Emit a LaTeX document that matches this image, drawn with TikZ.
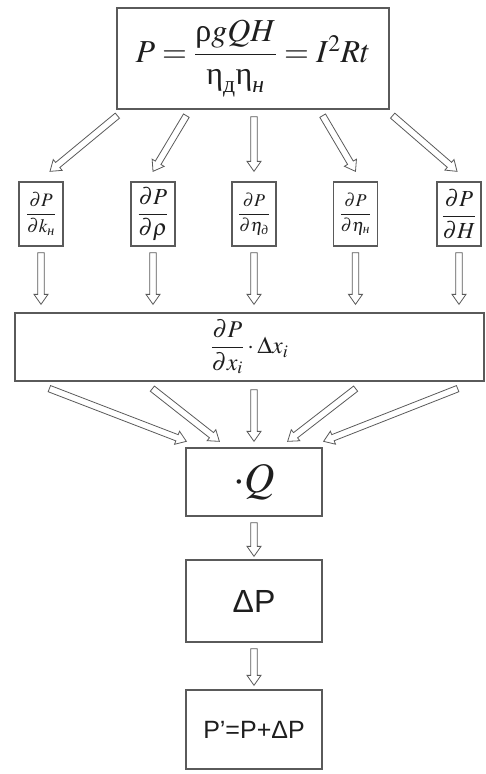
\documentclass[tikz,border=0pt]{standalone}
\usepackage{mathptmx}
\usepackage{amsmath}
\usepackage{fontspec}
\setmainfont{Liberation Serif}
\newfontfamily\arialfont{Liberation Sans}
\usetikzlibrary{calc}

\definecolor{frame}{HTML}{5A5A5A}
\definecolor{ink}{HTML}{1E1E1E}

\tikzset{
  box/.style={draw=frame, line width=1.3pt, fill=white, inner sep=0pt, text=ink},
  smallbox/.style={box, minimum width=44pt, minimum height=64pt},
  midbox/.style={box, minimum width=136pt},
  arrowline/.style={draw=frame, line width=0.8pt, fill=white, line join=miter}
}

% hollow block arrow from #1 to #2
\newcommand{\hollowarrow}[2]{%
  \path #1 coordinate (ha-s) #2 coordinate (ha-e);
  \path ($(ha-e)!10pt!(ha-s)$) coordinate (ha-h);
  \draw[arrowline]
    ($(ha-s)!3.3pt!90:(ha-e)$) -- ($(ha-h)!3.3pt!90:(ha-e)$) --
    ($(ha-h)!7pt!90:(ha-e)$) -- (ha-e) --
    ($(ha-h)!7pt!-90:(ha-e)$) -- ($(ha-h)!3.3pt!-90:(ha-e)$) --
    ($(ha-s)!3.3pt!-90:(ha-e)$) -- cycle;
}

\begin{document}
\begin{tikzpicture}[x=1pt, y=-1pt]
\useasboundingbox (0,0) rectangle (485,774);

% power formula
\node[box, minimum width=272pt, minimum height=101pt] (power) at (253,58.5)
  {\fontsize{32}{38}\selectfont
   $P=\dfrac{\text{ρ}gQH}{\text{η}_{\text{д}}\text{η}_{\textit{н}}}=I^{2}Rt$};

% partial derivatives
\node[smallbox] (dk) at (41,214)
  {\fontsize{19}{22}\selectfont $\dfrac{\partial P}{\partial k_{\textit{н}}}$};
\node[smallbox] (drho) at (153,214)
  {\fontsize{23}{26}\selectfont $\dfrac{\partial P}{\partial \rho}$};
\node[smallbox] (detad) at (254,214)
  {\fontsize{18}{21}\selectfont $\dfrac{\partial P}{\partial \eta_{\textit{д}}}$};
\node[smallbox] (detan) at (355.5,214)
  {\fontsize{18}{21}\selectfont $\dfrac{\partial P}{\partial \eta_{\textit{н}}}$};
\node[smallbox] (dH) at (459,214)
  {\fontsize{23}{26}\selectfont $\dfrac{\partial P}{\partial H}$};

% weighted sum
\node[box, minimum width=469pt, minimum height=68pt] (sum) at (249.5,347)
  {\fontsize{24}{28}\selectfont $\dfrac{\partial P}{\partial x_{i}}\cdot\Delta x_{i}$};

% flow rate factor
\node[midbox, minimum height=68pt] (flow) at (254,482)
  {\fontsize{42}{46}\selectfont $\cdot Q$};

% increment
\node[midbox, minimum height=82pt] (inc) at (254,601)
  {\arialfont\fontsize{32}{36}\selectfont ΔP};

% result
\node[midbox, minimum height=79pt] (res) at (254,729.5)
  {\arialfont\fontsize{25}{30}\selectfont P’=P+ΔP};

% formula to partial derivatives
\hollowarrow{($(power.south west)+(1,6)$)}{($(dk.north)+(9,-10)$)}
\hollowarrow{($(power.south west)+(70,6)$)}{($(drho.north)+(0,-10)$)}
\hollowarrow{($(power.south)+(1,7)$)}{($(detad.north)+(0,-10)$)}
\hollowarrow{($(power.south east)+(-67,6)$)}{($(detan.north)+(0,-10)$)}
\hollowarrow{($(power.south east)+(3,6)$)}{($(dH.north)+(-2,-10)$)}

% partial derivatives to sum
\foreach \n in {dk,drho,detad,detan,dH}{
  \hollowarrow{($(\n.south)+(0,6)$)}{($(sum.north-|\n)+(0,-8)$)}
}

% sum to flow factor
\hollowarrow{($(sum.south west)+(35,7)$)}{($(flow.north west)+(1,-6)$)}
\hollowarrow{($(sum.south west)+(138,7)$)}{($(flow.north west)+(34,-6)$)}
\hollowarrow{($(sum.south)+(4.5,8)$)}{($(flow.north)+(0,-6)$)}
\hollowarrow{($(sum.south east)+(-129,7)$)}{($(flow.north east)+(-35,-6)$)}
\hollowarrow{($(sum.south east)+(-27,7)$)}{($(flow.north east)+(1,-6)$)}

% down the chain
\hollowarrow{($(flow.south)+(0,6)$)}{($(inc.north)+(0,-3)$)}
\hollowarrow{($(inc.south)+(0,6)$)}{($(res.north)+(0,-4)$)}
\end{tikzpicture}
\end{document}
